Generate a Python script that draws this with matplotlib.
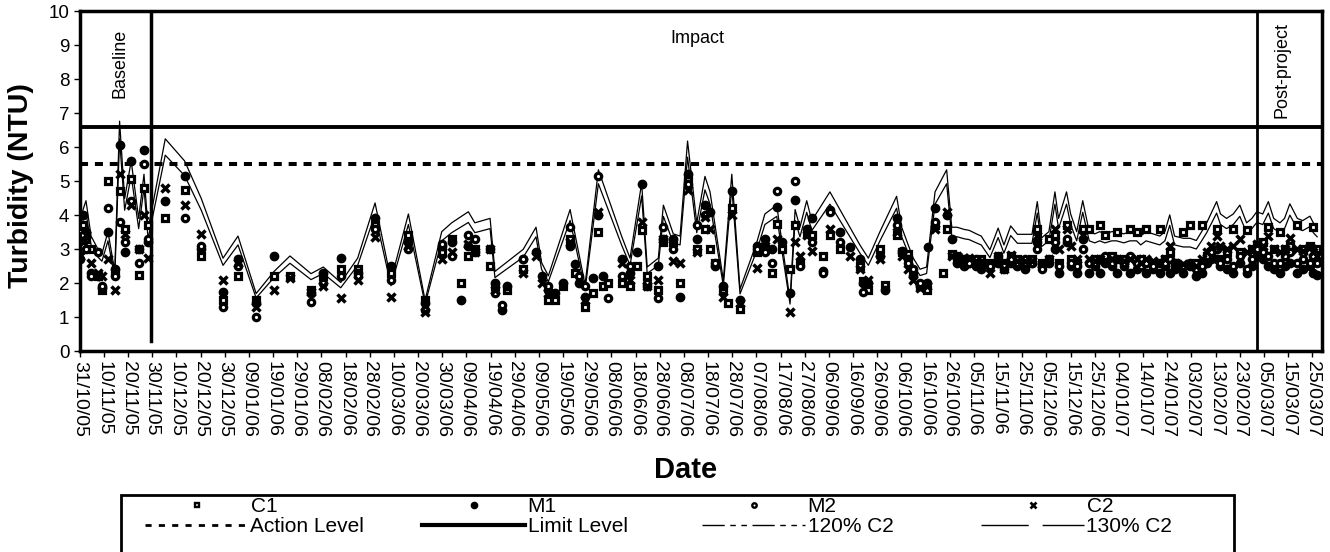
import numpy as np
import matplotlib
matplotlib.use("Agg")
import matplotlib.pyplot as plt
from matplotlib.lines import Line2D
from matplotlib.patches import Rectangle

plt.rcParams['font.family'] = ['Liberation Sans', 'DejaVu Sans']

nan = float('nan')

# x tick labels (every 10 days from 31/10/05)
tick_labels = ["31/10/05", "10/11/05", "20/11/05", "30/11/05", "10/12/05", "20/12/05",
               "30/12/05", "09/01/06", "19/01/06", "29/01/06", "08/02/06", "18/02/06",
               "28/02/06", "10/03/06", "20/03/06", "30/03/06", "09/04/06", "19/04/06",
               "29/04/06", "09/05/06", "19/05/06", "29/05/06", "08/06/06", "18/06/06",
               "28/06/06", "08/07/06", "18/07/06", "28/07/06", "07/08/06", "17/08/06",
               "27/08/06", "06/09/06", "16/09/06", "26/09/06", "06/10/06", "16/10/06",
               "26/10/06", "05/11/06", "15/11/06", "25/11/06", "05/12/06", "15/12/06",
               "25/12/06", "04/01/07", "14/01/07", "24/01/07", "03/02/07", "13/02/07",
               "23/02/07", "05/03/07", "15/03/07", "25/03/07"]
tick_days = [10 * i for i in range(len(tick_labels))]

# sampling days (days after 31/10/05)
sample_day = [0.0, 1.4, 2.6, 4.7, 7.6, 9.2, 11.7, 14.5, 16.5, 18.6,
              21.3, 24.4, 26.6, 28.3, 35.4, 43.4, 50.3, 59.3, 65.5, 73.0,
              80.4, 87.0, 95.7, 100.8, 108.0, 115.0, 122.2, 128.8, 136.0, 142.9,
              149.8, 153.9, 157.6, 160.8, 163.5, 169.8, 171.8, 174.6, 176.7, 183.5,
              188.8, 191.1, 193.9, 196.7, 200.0, 202.9, 205.0, 206.6, 209.1, 212.5,
              214.6, 216.6, 218.7, 224.2, 227.7, 230.7, 232.5, 234.8, 239.4, 241.5,
              245.6, 248.4, 251.5, 255.3, 258.7, 260.8, 262.9, 266.3, 268.4, 269.8,
              273.2, 280.1, 283.5, 286.3, 288.4, 290.4, 293.9, 296.0, 298.0, 300.8,
              302.9, 307.6, 310.4, 314.6, 318.7, 322.8, 324.2, 326.3, 331.1, 333.2,
              338.0, 340.1, 342.8, 344.9, 347.7, 350.4, 351.1, 353.9, 357.3, 358.7,
              360.8, 363.0, 366.0, 368.0, 371.0, 373.0, 376.6, 380.0, 382.4, 385.2,
              388.0, 391.0, 394.0, 396.2, 398.0, 401.0, 403.5, 405.0, 408.3, 410.0,
              412.5, 415.0, 417.7, 420.0, 422.0, 424.2, 427.0, 429.0, 432.0, 434.5,
              437.3, 439.0, 441.2, 444.0, 446.9, 449.0, 451.0, 453.0, 456.6, 459.4,
              462.0, 464.2, 466.3, 468.0, 470.4, 472.0, 474.5, 477.3, 480.0, 482.8,
              485.0, 487.0, 489.5, 491.8, 494.0, 496.6, 498.5, 500.7, 503.8, 506.0,
              509.0, 510.4, 512.0]

c1 = [3.5, 3.7, 3.3, 3.0, 2.2, 1.8, 5.0, 2.3, 4.7, 3.6,
      5.05, 2.25, 4.8, 3.7, 3.9, 4.75, 2.8, 1.5, 2.2, 1.5,
      2.2, 2.2, 1.8, 2.2, 2.4, 2.4, 3.7, 2.3, 3.4, 1.5,
      2.9, 3.3, 2.0, 2.8, 3.0, 2.5, 1.9, nan, 1.8, 2.4,
      nan, nan, 1.5, 1.5, 1.9, 3.3, 2.3, nan, 1.3, 1.7,
      3.5, 1.9, 2.0, 2.0, 1.9, 2.5, 3.55, 2.2, 1.8, 3.2,
      3.2, 2.0, 5.1, 3.0, 3.6, 3.0, 2.6, 1.8, 1.4, 4.2,
      1.25, 2.9, 3.0, 2.3, 3.75, 3.0, 2.4, 3.7, 2.6, 3.45,
      3.4, 2.8, 3.4, 3.0, nan, 2.5, 2.05, 1.8, 3.0, 1.95,
      3.4, 2.9, 2.85, 2.3, 1.9, 1.8, nan, 3.7, 2.3, 3.6,
      2.85, 2.7, 2.6, 2.7, 2.6, 2.7, 2.6, 2.7, 2.6, 2.8,
      2.7, 2.6, 2.7, 3.6, 2.6, 3.3, 3.4, 2.6, 3.7, 2.7,
      2.6, 3.6, 3.6, 2.7, 3.7, 3.4, 2.8, 3.5, 2.7, 3.6,
      3.5, 2.7, 3.6, 2.6, 3.6, 2.7, 2.9, 2.6, 3.5, 3.7,
      2.6, 3.7, 2.8, 2.9, 3.6, 2.7, 2.9, 3.6, 2.9, 3.55,
      3.0, 3.1, 3.2, 3.65, 3.0, 3.5, 3.0, 3.1, 3.7, 3.0,
      3.1, 3.65, 3.0]

m1 = [2.7, 4.0, 3.5, 2.3, 2.2, 1.85, 3.5, 2.4, 6.05, 2.9,
      5.6, 3.0, 5.9, 3.2, 4.4, 5.15, 3.0, 1.75, 2.7, 1.4,
      2.8, nan, 1.7, 2.3, 2.75, 2.3, 3.9, 2.5, 3.2, 1.4,
      3.1, 3.2, 1.5, 3.1, 2.9, 3.0, 2.0, 1.2, 1.9, 2.7,
      2.9, 2.2, 1.8, 1.7, 2.0, 3.1, 2.55, 2.0, 1.6, 2.15,
      4.0, 2.2, nan, 2.7, 2.3, 2.9, 4.9, 1.9, 2.5, 3.3,
      3.3, 1.6, 5.2, 3.3, 4.3, 4.1, 2.5, 1.9, nan, 4.7,
      1.5, 3.1, 3.3, 3.0, 4.25, 3.2, 1.7, 4.45, nan, 3.6,
      3.9, 2.35, 4.15, 3.5, 3.05, 2.7, 2.0, 2.0, 2.8, 1.8,
      3.9, 2.95, 2.7, 2.2, 1.9, 2.0, 3.05, 4.2, nan, 4.0,
      3.3, 2.6, 2.5, 2.6, 2.5, 2.4, 2.5, 2.6, 2.4, 2.6,
      2.5, 2.4, 2.6, 3.2, 2.5, 2.6, 3.0, 2.3, 3.2, 2.5,
      2.3, 3.3, 2.3, 2.5, 2.3, 2.6, 2.5, 2.3, 2.5, 2.3,
      2.4, 2.5, 2.3, 2.4, 2.3, 2.5, 2.3, 2.4, 2.3, 2.5,
      2.2, 2.3, 2.6, 2.7, 2.7, 2.5, 2.4, 2.3, 2.6, 2.3,
      2.5, 2.8, 2.7, 2.5, 2.4, 2.3, 2.5, 2.6, 2.3, 2.4,
      2.5, 2.3, 2.25]

m2 = [3.3, 3.4, 3.0, 2.2, 2.9, 1.9, 4.2, 2.2, 3.8, 3.2,
      4.4, 2.6, 5.5, 3.3, nan, 3.9, 3.1, 1.3, 2.5, 1.0,
      nan, nan, 1.45, 2.0, 2.2, 2.2, 3.6, 2.1, 3.0, 1.2,
      3.15, 2.8, nan, 3.4, 3.3, nan, 1.7, 1.35, nan, 2.7,
      nan, nan, 1.9, nan, nan, 3.65, nan, 2.2, 1.9, nan,
      5.15, nan, 1.55, 2.2, 2.5, nan, nan, 2.0, 1.55, 3.65,
      3.0, nan, 4.9, 3.7, 4.0, nan, 2.6, nan, nan, nan,
      nan, 3.0, 2.9, 2.6, 4.7, nan, nan, 5.0, 2.5, nan,
      3.2, 2.3, 4.1, 3.2, nan, nan, 1.75, nan, nan, nan,
      3.7, nan, 2.6, 2.4, 2.0, nan, nan, 3.8, nan, nan,
      nan, 2.8, 2.7, 2.6, 2.7, 2.6, 2.5, 2.8, 2.5, 2.7,
      2.6, 2.7, 2.6, 3.0, 2.4, 2.7, 3.2, 2.5, 3.3, 2.6,
      2.5, 3.0, 2.6, 2.6, 2.7, 2.8, 2.6, 2.7, 2.6, 2.8,
      2.6, 2.5, 2.6, 2.5, 2.6, 2.6, 2.7, 2.6, 2.5, 2.6,
      2.4, 2.5, 2.8, 2.9, 3.0, 2.6, 2.7, 2.5, 2.8, 2.4,
      2.7, 3.0, 2.9, 2.8, 2.6, 2.6, 2.8, 2.9, 2.6, 2.7,
      2.6, 2.8, 2.6]

c2 = [2.8, 3.2, 3.4, 2.6, 2.3, 2.2, 2.7, 1.8, 5.2, 3.45,
      4.3, 3.0, 4.0, 2.75, 4.8, 4.3, 3.45, 2.1, 2.6, 1.3,
      1.8, 2.15, 1.75, 1.9, 1.55, 2.1, 3.35, 1.6, 3.1, 1.15,
      2.7, 2.9, nan, 3.15, 2.9, 3.0, 1.8, nan, nan, 2.3,
      2.8, 2.0, 1.7, nan, nan, 3.2, nan, nan, 1.5, nan,
      4.1, nan, nan, 2.6, 2.1, nan, 3.8, 1.9, 2.1, 3.3,
      2.65, 2.6, 4.75, 2.9, 3.95, 3.6, nan, 1.6, nan, 4.0,
      1.4, 2.45, 3.1, nan, 3.3, nan, 1.15, 3.2, 2.8, 3.4,
      2.95, nan, 3.6, nan, 2.8, 2.4, nan, 2.1, 2.7, nan,
      3.5, 2.8, 2.4, 2.1, 1.85, 1.9, nan, 3.6, nan, 4.1,
      2.8, 2.8, 2.75, 2.73, 2.65, 2.6, 2.29, 2.78, 2.4, 2.83,
      2.64, 2.64, 2.64, 3.38, 2.56, 2.7, 3.6, 3.0, 3.6, 3.1,
      2.7, 3.4, 2.7, 2.65, 2.7, 2.65, 2.7, 2.7, 2.65, 2.7,
      2.7, 2.6, 2.7, 2.65, 2.6, 2.7, 3.08, 2.6, 2.55, 2.55,
      2.5, 2.7, 2.9, 3.1, 3.38, 3.1, 3.0, 3.1, 3.3, 2.9,
      3.0, 3.15, 3.1, 3.38, 3.0, 2.9, 3.0, 3.33, 3.0, 2.95,
      3.05, 2.9, 2.8]

action_level = 5.5
limit_level = 6.6
baseline_end_day = 29.4
postproject_start_day = 487.3
pct_120 = 1.20
pct_130 = 1.30

assert len(sample_day) == len(c1) == len(m1) == len(m2) == len(c2)

W, H = 1330, 552
fig = plt.figure(figsize=(W / 100, H / 100), dpi=100)
ax = fig.add_axes([79.7 / W, 1 - 351 / H, (1322 - 79.7) / W, 340 / H])

days = np.array(sample_day)
c2a = np.array(c2)
ok = ~np.isnan(c2a)

# 120% / 130% of C2 lines
ax.plot(days[ok], pct_120 * c2a[ok], color='black', lw=0.9, zorder=3)
ax.plot(days[ok], pct_130 * c2a[ok], color='black', lw=0.9, zorder=3)

mk = dict(ls='none', color='black', zorder=4)
ax.plot(days, c1, marker='s', ms=4.6, mfc='white', mec='black', mew=2.3, **mk)
ax.plot(days, m1, marker='o', ms=6.0, mfc='black', mec='black', mew=1.0, **mk)
ax.plot(days, m2, marker='o', ms=4.6, mfc='white', mec='black', mew=2.3, **mk)
ax.plot(days, c2, marker='x', ms=5.2, mew=2.5, mec='black', **mk)

# levels
ax.axhline(action_level, color='black', lw=2.9, ls=(0, (2.0, 1.7)), zorder=2)
ax.axhline(limit_level, color='black', lw=2.8, zorder=2)
ax.plot([baseline_end_day, baseline_end_day], [0.3, 10], color='black', lw=2.5, zorder=2)
ax.axvline(postproject_start_day, color='black', lw=2.0, zorder=2)

ax.text(16.7, 8.47, "Baseline", rotation=90, ha='center', va='center', fontsize=13)
ax.text(255.6, 9.19, "Impact", ha='center', va='center', fontsize=13)
ax.text(497.4, 8.26, "Post-project", rotation=90, ha='center', va='center', fontsize=13)

ax.set_xlim(0, 514)
ax.set_ylim(0, 10)
ax.set_yticks(range(0, 11))
ax.set_yticklabels([str(v) for v in range(0, 11)], fontsize=13.5)
ax.set_xticks(tick_days)
ax.set_xticklabels(tick_labels, rotation=270, fontsize=14, ha='center', va='top')
ax.tick_params(axis='both', direction='out', length=4, width=1, color='black')
ax.tick_params(axis='x', pad=3)
for s in ax.spines.values():
    s.set_linewidth(2.5)

fig.text(21.5 / W, 1 - 186 / H, "Turbidity (NTU)", rotation=90, ha='center', va='center',
         fontsize=20.5, fontweight='bold')
fig.text(686 / W, 1 - 470 / H, "Date", ha='center', va='center', fontsize=21, fontweight='bold')

# legend (4 columns, each a small legend) + frame
h_c1 = Line2D([], [], ls='none', marker='s', ms=3.2, mfc='white', mec='black', mew=1.7)
h_m1 = Line2D([], [], ls='none', marker='o', ms=4.5, mfc='black', mec='black')
h_m2 = Line2D([], [], ls='none', marker='o', ms=3.2, mfc='white', mec='black', mew=1.7)
h_c2 = Line2D([], [], ls='none', marker='x', ms=4, mew=1.9, color='black')
h_act = Line2D([], [], color='black', lw=2, ls=(0, (2.2, 2.6)))
h_lim = Line2D([], [], color='black', lw=3)
h_120 = Line2D([], [], color='black', lw=1, ls=(0, (16, 4, 4, 4, 4, 4)))
h_130 = Line2D([], [], color='black', lw=1, ls=(0, (34, 10)))

cols = [([h_c1, h_act], ["C1", "Action Level"], 145),
        ([h_m1, h_lim], ["M1", "Limit Level"], 422),
        ([h_m2, h_120], ["M2", "120% C2"], 702),
        ([h_c2, h_130], ["C2", "130% C2"], 981)]
fs_leg = 15
for hs, labs, xpix in cols:
    fig.legend(hs, labs, loc='upper left', bbox_to_anchor=(xpix / W, 1 - 497 / H),
               bbox_transform=fig.transFigure, frameon=False, borderpad=0,
               borderaxespad=0, handlelength=103 / (fs_leg * 100 / 72),
               handletextpad=0.12, labelspacing=0.05, fontsize=fs_leg)

fig.add_artist(Rectangle((121 / W, -0.05), (1234 - 121) / W, 0.05 + 1 - 495 / H,
                         transform=fig.transFigure, fill=False, lw=2, ec='black'))

fig.savefig("out.png", dpi=100)
